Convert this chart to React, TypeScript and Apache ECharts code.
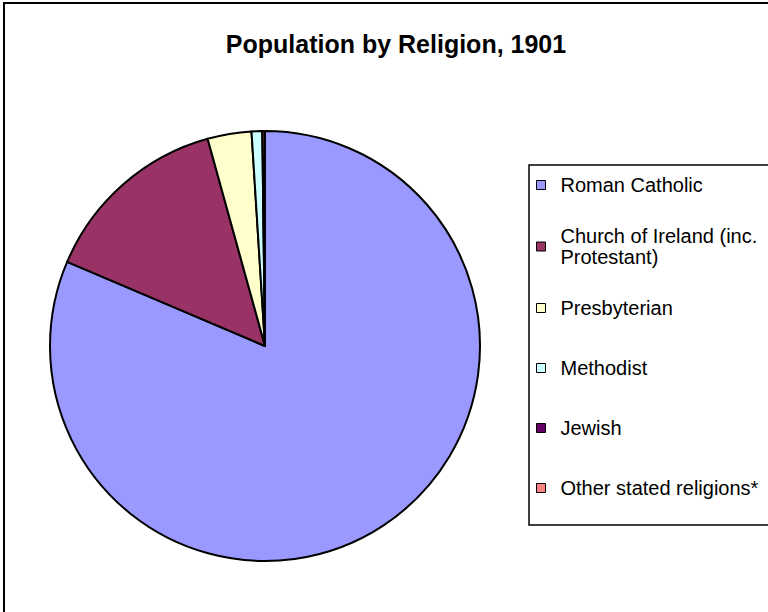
import React, { useEffect, useRef } from "react";
import * as echarts from "echarts";

const chartTitle = "Population by Religion, 1901";
const categories = [
  "Roman Catholic",
  "Church of Ireland (inc. Protestant)",
  "Presbyterian",
  "Methodist",
  "Jewish",
  "Other stated religions*",
];
const legendLabels = [
  "Roman Catholic",
  "Church of Ireland (inc.\nProtestant)",
  "Presbyterian",
  "Methodist",
  "Jewish",
  "Other stated religions*",
];
const shares = [81.4, 14.3, 3.3, 0.8, 0.03, 0.17];
const colors = ["#9999FF", "#993366", "#FFFFCC", "#CCFFFF", "#660066", "#FF8080"];

const FONT = "'Liberation Sans', Arial, Helvetica, sans-serif";

export default function App() {
  const ref = useRef<HTMLDivElement>(null);
  useEffect(() => {
    if (!ref.current) return;
    const chart = echarts.init(ref.current, undefined, { renderer: "svg" });
    const legendData = categories.map((name, i) => {
      const multi = legendLabels[i].includes("\n");
      return {
        name,
        textStyle: {
          lineHeight: 21,
          padding: multi ? [21, 0, 0, 10] : [19, 0, 20, 10],
          backgroundColor: "rgba(255,255,255,0)",
        },
      };
    });
    chart.setOption({
      animation: false,
      backgroundColor: "#ffffff",
      title: {
        text: chartTitle,
        left: 391,
        top: 26,
        textAlign: "center",
        textStyle: {
          fontFamily: FONT,
          fontSize: 25,
          fontWeight: "bold",
          color: "#000",
        },
      },
      legend: {
        orient: "vertical",
        left: 536,
        top: 155,
        padding: 0,
        itemGap: 0,
        itemWidth: 9,
        itemHeight: 9,
        icon: "rect",
        selectedMode: false,
        itemStyle: { borderColor: "#000", borderWidth: 1 },
        textStyle: { fontFamily: FONT, fontSize: 20, color: "#000" },
        formatter: (name: string) => legendLabels[categories.indexOf(name)],
        data: legendData,
      },
      graphic: [
        {
          type: "rect",
          shape: { x: 4, y: 3, width: 900, height: 800 },
          style: { fill: "none", stroke: "#000", lineWidth: 2 },
          silent: true,
        },
        {
          type: "rect",
          shape: { x: 529, y: 165, width: 400, height: 360 },
          style: { fill: "none", stroke: "#000", lineWidth: 1.5 },
          silent: true,
        },
      ],
      series: [
        {
          type: "pie",
          center: [265, 346],
          radius: 215,
          startAngle: 90,
          clockwise: true,
          minAngle: 0,
          avoidLabelOverlap: false,
          label: { show: false },
          labelLine: { show: false },
          emphasis: { disabled: true },
          itemStyle: { borderColor: "#000", borderWidth: 2 },
          data: categories.map((name, i) => ({
            name,
            value: shares[i],
            itemStyle: { color: colors[i] },
          })),
        },
      ],
    });
    return () => chart.dispose();
  }, []);
  return (
    <div
      ref={ref}
      style={{ position: "fixed", left: 0, top: 0, width: 768, height: 612 }}
    />
  );
}
